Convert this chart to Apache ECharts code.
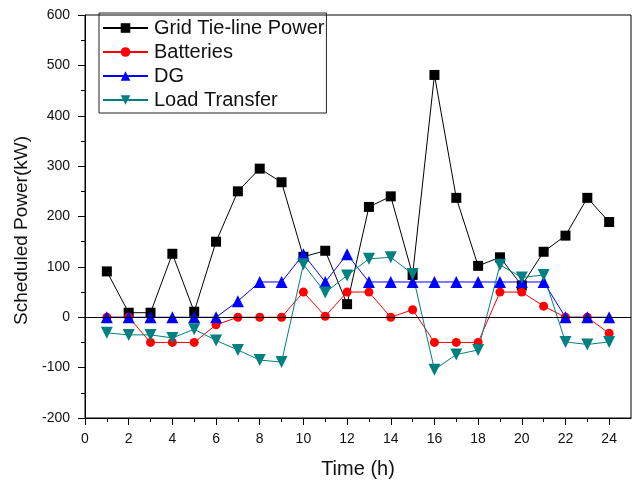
<!DOCTYPE html>
<html>
<head>
<meta charset="utf-8">
<script src="https://cdn.jsdelivr.net/npm/echarts@6/dist/echarts.min.js"></script>
<style>
html,body{margin:0;padding:0;background:#fff;}
#chart{width:634px;height:484px;}
</style>
</head>
<body>
<div id="chart"></div>
<script>
var hours = [1,2,3,4,5,6,7,8,9,10,11,12,13,14,15,16,17,18,19,20,21,22,23,24];
var gridTie = [91,9,9,126,11,150,250,295,268,120,132,26,219,240,84,481,237,102,119,63,130,162,237,189];
var batteries = [0,0,-50,-50,-50,-15,0,0,0,50,2,50,50,0,15,-50,-50,-50,50,50,22,0,0,-32];
var dg = [0,0,0,0,0,0,32,70,70,125,70,125,70,70,70,70,70,70,70,70,70,0,0,0];
var loadTransfer = [-31,-35,-35,-41,-24,-46,-65,-85,-89,105,49,83,116,119,86,-104,-74,-65,104,79,84,-49,-54,-49];
var seriesNames = ['Grid Tie-line Power','Batteries','DG','Load Transfer'];
var xMajor = [0,2,4,6,8,10,12,14,16,18,20,22,24];
var xMinor = [1,3,5,7,9,11,13,15,17,19,21,23];

function pairs(vals){ return hours.map(function(h,i){ return [h, vals[i]]; }); }

var FONT = '"Liberation Sans", Arial, sans-serif';
var chart = echarts.init(document.getElementById('chart'), null, {renderer:'canvas'});
chart.setOption({
  animation:false,
  backgroundColor:'#fff',
  grid:{left:85,right:3,top:15,bottom:65,show:true,borderColor:'#000',borderWidth:1,backgroundColor:'transparent'},
  legend:{
    orient:'vertical', left:99, top:13,
    data:seriesNames,
    itemWidth:45, itemHeight:12, itemGap:0,
    padding:[3,2,1,3],
    borderColor:'#222', borderWidth:1,
    textStyle:{fontFamily:FONT,fontSize:20,color:'#111',lineHeight:24,padding:[0,0,0,1]}
  },
  xAxis:[{
    type:'value', min:0, max:25,
    name:'Time (h)', nameLocation:'middle', nameGap:41,
    nameTextStyle:{fontFamily:FONT,fontSize:20,color:'#111'},
    axisLine:{show:true,onZero:false,lineStyle:{color:'#000',width:1}},
    axisTick:{show:true,inside:false,length:7,customValues:xMajor,lineStyle:{color:'#000'}},
    axisLabel:{customValues:xMajor,fontFamily:FONT,fontSize:14,color:'#111',margin:14},
    splitLine:{show:false}
  },{
    type:'value', min:0, max:25, position:'bottom',
    axisLine:{show:false,onZero:false},
    axisTick:{show:true,inside:false,length:4,customValues:xMinor,lineStyle:{color:'#000'}},
    axisLabel:{show:false},
    splitLine:{show:false}
  }],
  yAxis:{
    type:'value', min:-200, max:600, interval:100,
    name:'Scheduled Power(kW)', nameLocation:'middle', nameGap:52,
    nameTextStyle:{fontFamily:FONT,fontSize:19,color:'#111',padding:[0,28,0,0]},
    axisLine:{show:true,onZero:false,lineStyle:{color:'#000',width:1}},
    axisTick:{show:true,inside:false,length:7,lineStyle:{color:'#000'}},
    minorTick:{show:true,splitNumber:2,length:4,lineStyle:{color:'#000'}},
    axisLabel:{fontFamily:FONT,fontSize:14,color:'#111',margin:15},
    splitLine:{show:false}
  },
  series:[{
    name:seriesNames[0], type:'line', data:pairs(gridTie),
    symbol:'rect', symbolSize:10,
    itemStyle:{color:'#000'}, lineStyle:{color:'#000',width:1},
    markLine:{silent:true,symbol:'none',label:{show:false},lineStyle:{color:'#000',width:1,type:'solid'},data:[{yAxis:0}]}
  },{
    name:seriesNames[1], type:'line', data:pairs(batteries),
    symbol:'circle', symbolSize:9,
    itemStyle:{color:'#ff0000'}, lineStyle:{color:'#ff0000',width:1}
  },{
    name:seriesNames[2], type:'line', data:pairs(dg),
    symbol:'triangle', symbolSize:12,
    itemStyle:{color:'#0000ff'}, lineStyle:{color:'#0000ff',width:1}
  },{
    name:seriesNames[3], type:'line', data:pairs(loadTransfer),
    symbol:'triangle', symbolRotate:180, symbolSize:12,
    itemStyle:{color:'#008080'}, lineStyle:{color:'#008080',width:1}
  }]
});
</script>
</body>
</html>
